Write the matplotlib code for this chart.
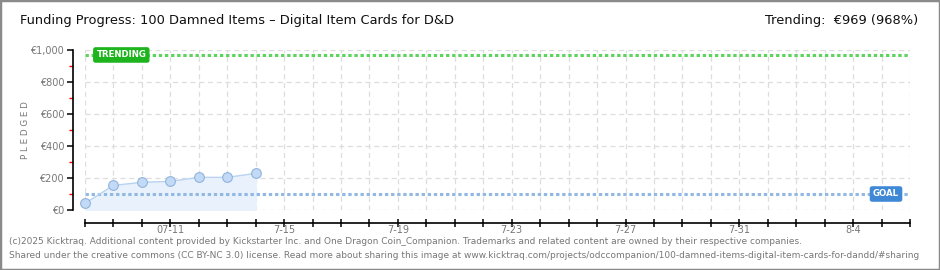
import matplotlib
matplotlib.use("Agg")
import matplotlib.pyplot as plt
from matplotlib.patches import Rectangle

# days counted from 7-8
days = [0, 1, 2, 3, 4, 5, 6]
pledged = [42, 154, 173, 179, 204, 204, 229]
goal = 100
trending = 969
tick_days = [3, 7, 11, 15, 19, 23, 27]
tick_labels = ["07-11", "7-15", "7-19", "7-23", "7-27", "7-31", "8-4"]
y_ticks = [0, 200, 400, 600, 800, 1000]
y_labels = ["€0", "€200", "€400", "€600", "€800", "€1,000"]

title = "Funding Progress: 100 Damned Items – Digital Item Cards for D&D"
trend_text = "Trending:  €969 (968%)"
footer1 = ("(c)2025 Kicktraq. Additional content provided by Kickstarter Inc. and One Dragon "
           "Coin_Companion. Trademarks and related content are owned by their respective companies.")
footer2 = ("Shared under the creative commons (CC BY-NC 3.0) license. Read more about sharing this "
           "image at www.kicktraq.com/projects/odccompanion/100-damned-items-digital-item-cards-for-dandd/#sharing")


def main():
    fig = plt.figure(figsize=(9.4, 2.7), dpi=100)
    fig.patches.append(Rectangle((0, 0), 1, 1, transform=fig.transFigure, fill=False,
                                 edgecolor="#8a8a8a", linewidth=2.5))

    ax = fig.add_axes([85 / 940, 60 / 270, 825 / 940, 160 / 270])
    ax.set_xlim(0, 29)
    ax.set_ylim(0, 1000)

    # grid
    for d in range(0, 30):
        ax.axvline(d, color="#dddddd", lw=0.9, ls=(0, (4, 3)), zorder=0)
    for v in y_ticks:
        ax.axhline(v, color="#dddddd", lw=0.9, ls=(0, (4, 3)), zorder=0)

    # trending + goal lines
    ax.axhline(trending, color="#5fd35f", lw=2.2, ls=(0, (1.1, 0.9)), zorder=2)
    ax.axhline(goal, color="#93b9e3", lw=2.2, ls=(0, (1.1, 0.9)), zorder=2)

    # pledges
    ax.fill_between(days, pledged, 0, color="#e9f2fc", zorder=1)
    ax.plot(days, pledged, color="#b9d3f0", lw=1, zorder=3)
    ax.plot(days, pledged, "o", ms=7, mfc="#c3daf6", mec="#8fb3dd", mew=0.8, zorder=4,
            clip_on=False)

    # labels on lines
    ax.text(0.4, trending, "TRENDING", color="white", fontsize=6.2, fontweight="bold",
            va="center", ha="left", zorder=5,
            bbox=dict(boxstyle="round,pad=0.3,rounding_size=0.2", fc="#1eb41e", ec="#1eb41e"))
    ax.text(27.7, goal, "GOAL", color="white", fontsize=6.2, fontweight="bold",
            va="center", ha="left", zorder=5,
            bbox=dict(boxstyle="round,pad=0.3,rounding_size=0.2", fc="#3f88d6", ec="#3f88d6"))

    # spines / ticks
    for s in ["top", "right"]:
        ax.spines[s].set_visible(False)
    ax.spines["left"].set_position(("outward", 9))
    ax.spines["bottom"].set_position(("outward", 9))
    ax.spines["left"].set_linewidth(1.2)
    ax.spines["bottom"].set_linewidth(1.2)

    ax.set_yticks(y_ticks)
    ax.set_yticklabels(y_labels)
    ax.set_yticks(range(100, 1000, 200), minor=True)
    ax.tick_params(axis="y", which="major", length=4, width=1.1, color="black",
                   labelsize=7, labelcolor="#777777", pad=2)
    ax.tick_params(axis="y", which="minor", length=3, width=1, color="red")

    ax.set_xticks(range(0, 30), minor=True)
    ax.set_xticks(tick_days)
    ax.set_xticklabels(tick_labels)
    ax.tick_params(axis="x", which="both", direction="inout", length=6, width=1.1,
                   color="black", labelsize=7, labelcolor="#777777", pad=-1)

    ax.set_ylabel("P L E D G E D", fontsize=6.3, color="#777777")
    ax.yaxis.set_label_coords(-55 / 825, 0.5)

    fig.text(20 / 940, 1 - 21 / 270, title, fontsize=9.4, va="center", ha="left", color="#111111")
    fig.text(918 / 940, 1 - 21 / 270, trend_text, fontsize=9.4, va="center", ha="right",
             color="#111111")
    fig.text(9 / 940, 1 - 242 / 270, footer1, fontsize=6.5, va="center", ha="left", color="#777777")
    fig.text(9 / 940, 1 - 256 / 270, footer2, fontsize=6.5, va="center", ha="left", color="#777777")

    fig.savefig("out.png", dpi=100)


if __name__ == '__main__':
    main()
